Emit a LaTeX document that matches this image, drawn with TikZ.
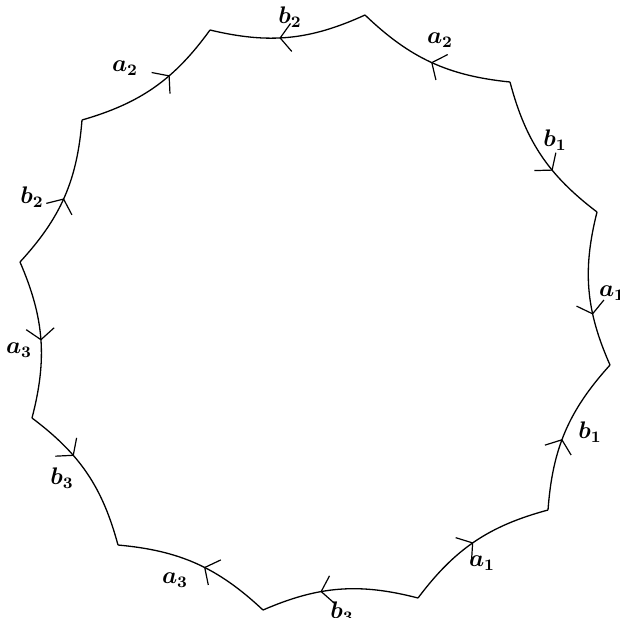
\documentclass[tikz,border=0pt]{standalone}
\usetikzlibrary{arrows.meta,decorations.markings}
\begin{document}
\begin{tikzpicture}[x=0.5pt,y=-0.5pt,
  edge/.style={line width=0.65pt,
    postaction={decorate,decoration={markings,
      mark=at position #1 with {\arrow{Straight Barb[length=5.5pt,width=14pt,line width=0.6pt]}}}}},
  edge/.default=0.5,
  cw/.style={bend right=19},
  ccw/.style={bend left=19},
  lab/.style={font=\large\boldmath,inner sep=0pt}]
\useasboundingbox (0,0) rectangle (620,617);
\coordinate (v1) at (365,15);
\coordinate (v2) at (510,82);
\coordinate (v3) at (597,212);
\coordinate (v4) at (610,365);
\coordinate (v5) at (548,510);
\coordinate (v6) at (418,598);
\coordinate (v7) at (263,610);
\coordinate (v8) at (118,545);
\coordinate (v9) at (32,418);
\coordinate (v10) at (20,262);
\coordinate (v11) at (82,120);
\coordinate (v12) at (210,30);
\draw[edge=0.56] (v1) to[ccw] (v12);
\draw[edge=0.5] (v2) to[ccw] (v1);
\draw[edge=0.62] (v2) to[cw] (v3);
\draw[edge=0.66] (v3) to[cw] (v4);
\draw[edge=0.45] (v5) to[ccw] (v4);
\draw[edge=0.49] (v6) to[ccw] (v5);
\draw[edge=0.62] (v6) to[cw] (v7);
\draw[edge=0.45] (v7) to[cw] (v8);
\draw[edge=0.36] (v9) to[ccw] (v8);
\draw[edge=0.51] (v10) to[ccw] (v9);
\draw[edge=0.49] (v10) to[cw] (v11);
\draw[edge=0.62] (v11) to[cw] (v12);
\node[lab] (l1) at (290,17) {$b_2$};
\node[lab] (l2) at (440,40) {$a_2$};
\node[lab] (l3) at (555,140) {$b_1$};
\node[lab] (l4) at (612,293) {$a_1$};
\node[lab] (l5) at (590,432) {$b_1$};
\node[lab] (l6) at (482,563) {$a_1$};
\node[lab] (l7) at (342,612) {$b_3$};
\node[lab] (l8) at (175,580) {$a_3$};
\node[lab] (l9) at (62,478) {$b_3$};
\node[lab] (l10) at (19,350) {$a_3$};
\node[lab] (l11) at (32,197) {$b_2$};
\node[lab] (l12) at (125,68) {$a_2$};
\end{tikzpicture}
\end{document}
